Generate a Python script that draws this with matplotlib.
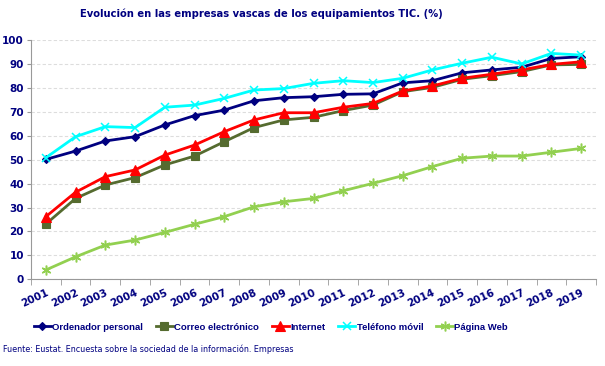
import matplotlib.pyplot as plt
import numpy as np

# Data
years = [str(y) for y in range(2001, 2020)]
ordenador = [50.1, 53.6, 57.8, 59.6, 64.5, 68.4, 70.7, 74.6, 75.9, 76.3,
             77.3, 77.5, 82.1, 83.0, 86.3, 87.5, 88.6, 92.3, 93.0]
correo = [23.1, 33.8, 39.4, 42.5, 47.8, 51.5, 57.5, 63.4, 66.6, 67.7,
          70.5, 72.8, 78.4, 80.2, 83.6, 85.1, 86.8, 89.6, 89.8]
internet = [26.2, 36.4, 42.9, 45.7, 51.9, 56.1, 61.7, 66.6, 69.6, 69.6,
            71.9, 73.5, 78.7, 80.8, 84.0, 85.7, 87.5, 89.8, 90.9]
telefono = [50.8, 59.6, 63.8, 63.4, 71.9, 72.8, 75.6, 79.1, 79.7, 81.9,
            83.0, 82.2, 84.0, 87.5, 90.3, 92.8, 90.0, 94.4, 93.7]
web = [3.9, 9.4, 14.3, 16.4, 19.6, 23.0, 26.2, 30.3, 32.4, 33.8,
       37.0, 40.1, 43.3, 47.1, 50.6, 51.5, 51.5, 53.1, 54.7]

series_names = ['Ordenador personal', 'Correo electrónico', 'Internet',
                'Teléfono móvil', 'Página Web']

navy = '#000080'
styles = [
    (ordenador, '#000080', 'D', 4.5),
    (correo, '#556B2F', 's', 6),
    (internet, '#FF0000', '^', 6.5),
    (telefono, '#00FFFF', 'x', 6),
    (web, '#92D050', (6, 2, 0), 7),
]

fig = plt.figure(figsize=(6.05, 3.66), dpi=100)
ax = fig.add_axes([31 / 605, 1 - 279.3 / 366, 565 / 605, 239.3 / 366])

x = np.arange(len(years))
for (vals, color, marker, ms), name in zip(styles, series_names):
    ax.plot(x, vals, color=color, marker=marker, markersize=ms, linewidth=2.0,
            markeredgewidth=1.1 if marker in ('x', (6, 2, 0)) else 0.8,
            markeredgecolor=color, label=name)

ax.set_xlim(-0.5, len(years) - 0.5)
ax.set_ylim(0, 100)
ax.set_yticks(range(0, 101, 10))
ax.set_yticklabels([str(v) for v in range(0, 101, 10)], fontsize=7.5,
                   fontweight='bold', color=navy)
ax.set_xticks(x)
ax.set_xticklabels(years, rotation=25, ha='right', rotation_mode='anchor',
                   fontsize=7.5, fontweight='bold', color=navy)
ax.tick_params(axis='x', which='major', length=0, pad=6)
ax.set_xticks(np.arange(-0.5, len(years), 1), minor=True)
ax.tick_params(axis='x', which='minor', length=4, color='#999999')
ax.tick_params(axis='y', length=3, color='#999999', pad=2)

ax.grid(axis='y', linestyle=(0, (3, 2)), color='#dddddd', linewidth=0.8)
ax.set_axisbelow(True)
for side in ['top', 'right']:
    ax.spines[side].set_visible(False)
for side in ['left', 'bottom']:
    ax.spines[side].set_color('#999999')

fig.text(261 / 605, 1 - 14 / 366, 'Evolución en las empresas vascas de los equipamientos TIC. (%)',
         ha='center', va='center', fontsize=7.2, fontweight='bold', color=navy)

leg = fig.legend(loc='center', bbox_to_anchor=(271 / 605, 1 - 327 / 366), ncol=5,
                 frameon=False, handlelength=1.8, handletextpad=0.15,
                 columnspacing=1.35,
                 prop={'family': 'Liberation Sans', 'weight': 'bold', 'size': 6.8})
for t in leg.get_texts():
    t.set_color(navy)

fig.text(3 / 605, 1 - 349 / 366,
         'Fuente: Eustat. Encuesta sobre la sociedad de la información. Empresas',
         ha='left', va='center', fontsize=5.8, color=navy)

fig.savefig('out.png', dpi=100)
